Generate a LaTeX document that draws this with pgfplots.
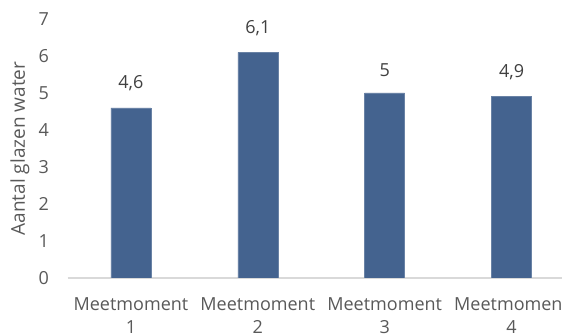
\documentclass[border=0pt]{standalone}
\usepackage{pgfplots}
\pgfplotsset{compat=1.18}
\usepackage{fontspec}
\setmainfont{Open Sans}
\definecolor{barblue}{RGB}{68,99,143}
\definecolor{axgray}{RGB}{217,217,217}
\definecolor{txtgray}{RGB}{89,89,89}
\definecolor{lblgray}{RGB}{64,64,64}
\begin{document}
\begin{tikzpicture}[x=1pt,y=1pt]
\path[use as bounding box] (0,0) rectangle (562,336);
\begin{axis}[
  at={(67.5pt,58pt)}, anchor=south west,
  scale only axis, width=507.5pt, height=259pt,
  xmin=-0.5, xmax=3.5, ymin=0, ymax=7,
  ybar, bar width=40pt,
  axis lines*=left,
  separate axis lines,
  y axis line style={draw=none},
  x axis line style={draw=axgray, line width=1.2pt},
  major tick length=0pt,
  ytick={0,1,2,3,4,5,6,7},
  xtick={0,1,2,3},
  xticklabels={{Meetmoment\\1},{Meetmoment\\2},{Meetmoment\\3},{Meetmoment\\4}},
  /pgf/number format/assume math mode=true,
  /pgf/number format/use comma,
  ticklabel style={font=\fontsize{18}{23}\selectfont, text=txtgray},
  xticklabel style={align=center, yshift=-16pt},
  yticklabel style={xshift=-15pt},
  ylabel={Aantal glazen water},
  every axis y label/.style={at={(axis description cs:0,0.5)}, xshift=-47.5pt, rotate=90, anchor=center, font=\fontsize{19}{22}\selectfont, text=txtgray},
  nodes near coords,
  every node near coord/.append style={font=\fontsize{18}{20}\selectfont, text=lblgray, yshift=13pt},
]
\addplot[fill=barblue, draw=barblue!80!white] coordinates {(0,4.6) (1,6.1) (2,5) (3,4.9)};
\end{axis}
\end{tikzpicture}
\end{document}
